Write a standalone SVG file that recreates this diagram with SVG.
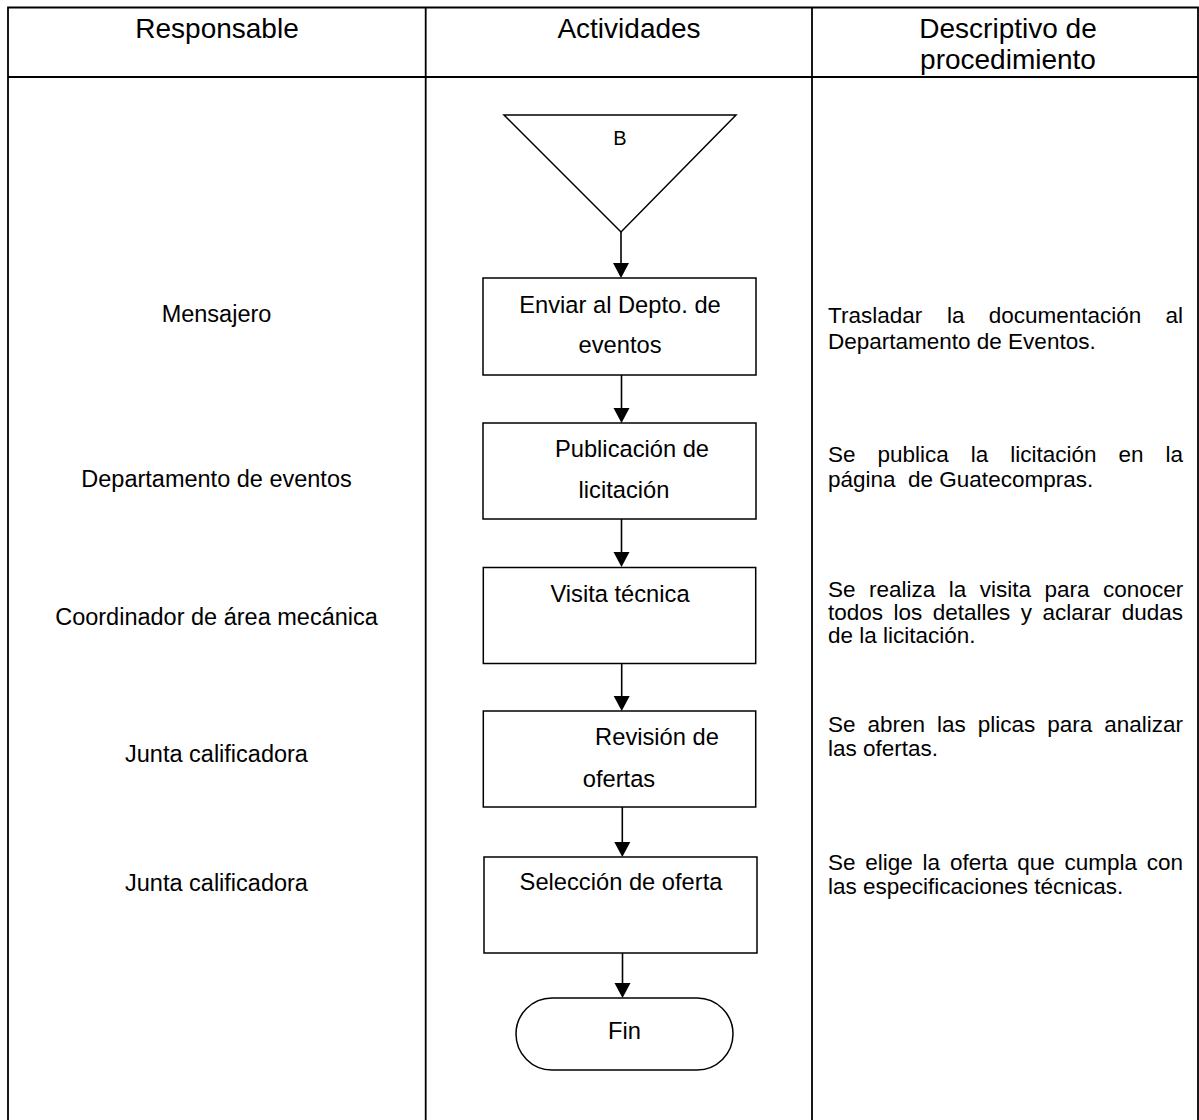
<svg xmlns="http://www.w3.org/2000/svg" width="1199" height="1120" viewBox="0 0 1199 1120">
<style>
text{font-family:"Liberation Sans",Arial,sans-serif;fill:#000}
.hd{font-size:28px;text-anchor:middle}
.lc{font-size:23.5px;text-anchor:middle}
.bx{font-size:23.7px;text-anchor:middle}
.rc{font-size:22.5px}
.grid{stroke:#000;stroke-width:1.8;fill:none}
.node{fill:#fff;stroke:#000;stroke-width:1.5}
.conn{stroke:#000;stroke-width:1.6;fill:none}
</style>
<rect width="1199" height="1120" fill="#fff"/>
<g id="table">
<path class="grid" d="M8,1121 V7.5 H1198 V1121 M8,77 H1198 M425.7,7.5 V1121 M812,7.5 V1121"/>
<text class="hd" x="217" y="38">Responsable</text>
<text class="hd" x="629" y="38">Actividades</text>
<text class="hd" x="1008" y="38">Descriptivo de</text>
<text class="hd" x="1008" y="69">procedimiento</text>
</g>
<g id="responsables">
<text class="lc" x="216.5" y="321.5">Mensajero</text>
<text class="lc" x="216.5" y="487">Departamento de eventos</text>
<text class="lc" x="216.5" y="625">Coordinador de área mecánica</text>
<text class="lc" x="216.5" y="762">Junta calificadora</text>
<text class="lc" x="216.5" y="891">Junta calificadora</text>
</g>
<g id="connectors">
<line class="conn" x1="621" y1="232" x2="621" y2="264"/>
<line class="conn" x1="621.5" y1="375" x2="621.5" y2="409"/>
<line class="conn" x1="621.5" y1="519" x2="621.5" y2="553"/>
<line class="conn" x1="621.7" y1="664" x2="621.7" y2="697"/>
<line class="conn" x1="622.3" y1="807" x2="622.3" y2="843"/>
<line class="conn" x1="622.5" y1="953" x2="622.5" y2="984"/>
<path d="M613,263 L629,263 L621,278 Z"/>
<path d="M613.5,408 L629.5,408 L621.5,423 Z"/>
<path d="M613.5,552 L629.5,552 L621.5,567 Z"/>
<path d="M613.7,696 L629.7,696 L621.7,711 Z"/>
<path d="M614.3,842 L630.3,842 L622.3,857 Z"/>
<path d="M614.5,983 L630.5,983 L622.5,998 Z"/>
</g>
<g id="conector-B">
<path class="node" d="M504,115 H736 L621,232 Z"/>
<text x="620" y="145" font-size="20" text-anchor="middle">B</text>
</g>
<g id="enviar">
<rect class="node" x="483" y="278" width="273" height="97"/>
<text class="bx" x="620" y="313">Enviar al Depto. de</text>
<text class="bx" x="620" y="353">eventos</text>
</g>
<g id="publicacion">
<rect class="node" x="483" y="423" width="273" height="96"/>
<text class="bx" x="632" y="457">Publicación de</text>
<text class="bx" x="624" y="498">licitación</text>
</g>
<g id="visita">
<rect class="node" x="483.3" y="567.5" width="272.4" height="96"/>
<text class="bx" x="620" y="602">Visita técnica</text>
</g>
<g id="revision">
<rect class="node" x="483.3" y="711" width="272.4" height="96"/>
<text class="bx" x="657" y="745">Revisión de</text>
<text class="bx" x="619" y="787">ofertas</text>
</g>
<g id="seleccion">
<rect class="node" x="484" y="857" width="273" height="96"/>
<text class="bx" x="621" y="890">Selección de oferta</text>
</g>
<g id="fin">
<rect class="node" x="516" y="998" width="217" height="72" rx="36" ry="36"/>
<text class="bx" x="624.5" y="1039">Fin</text>
</g>
<g id="descriptivo">
<text class="rc" y="323"><tspan x="828">Trasladar</tspan><tspan x="947.1">la</tspan><tspan x="988.7">documentación</tspan><tspan x="1165.5">al</tspan></text>
<text class="rc" x="828" y="348.5">Departamento de Eventos.</text>
<text class="rc" y="461.5"><tspan x="828">Se</tspan><tspan x="877.5">publica</tspan><tspan x="970.8">la</tspan><tspan x="1010.3">licitación</tspan><tspan x="1118.6">en</tspan><tspan x="1165.6">la</tspan></text>
<text class="rc" x="828" y="487" xml:space="preserve">página  de Guatecompras.</text>
<text class="rc" y="596.5"><tspan x="828">Se</tspan><tspan x="869">realiza</tspan><tspan x="948.8">la</tspan><tspan x="979.8">visita</tspan><tspan x="1044.6">para</tspan><tspan x="1103.1">conocer</tspan></text>
<text class="rc" y="619.5"><tspan x="828">todos</tspan><tspan x="893.5">los</tspan><tspan x="932.8">detalles</tspan><tspan x="1020.8">y</tspan><tspan x="1042.5">aclarar</tspan><tspan x="1121.8">dudas</tspan></text>
<text class="rc" x="828" y="643">de la licitación.</text>
<text class="rc" y="732"><tspan x="828">Se</tspan><tspan x="867.5">abren</tspan><tspan x="937">las</tspan><tspan x="977.8">plicas</tspan><tspan x="1047.3">para</tspan><tspan x="1104.3">analizar</tspan></text>
<text class="rc" x="828" y="756">las ofertas.</text>
<text class="rc" y="870"><tspan x="828">Se</tspan><tspan x="865.3">elige</tspan><tspan x="922.6">la</tspan><tspan x="949.9">oferta</tspan><tspan x="1017.2">que</tspan><tspan x="1064.5">cumpla</tspan><tspan x="1146.8">con</tspan></text>
<text class="rc" x="828" y="894">las especificaciones técnicas.</text>
</g>
</svg>
